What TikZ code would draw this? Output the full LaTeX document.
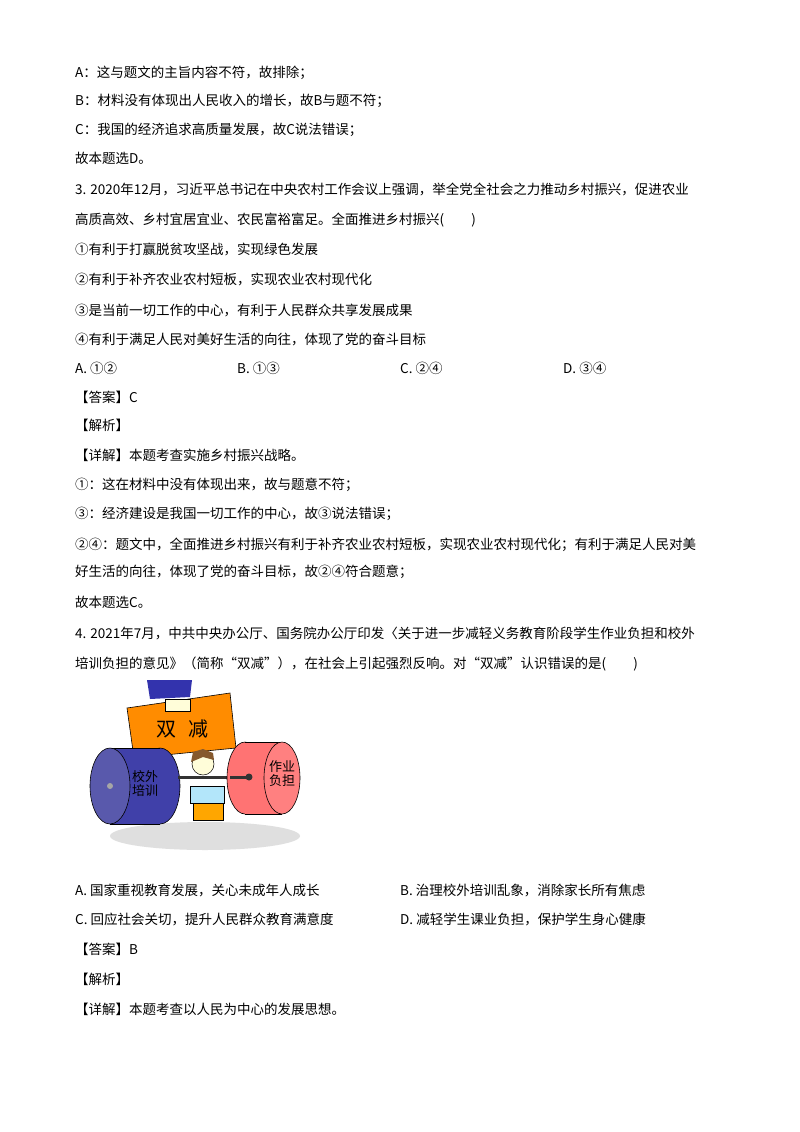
\documentclass[tikz,border=0pt]{standalone}
\usepackage{fontspec}
\setmainfont{Liberation Serif}
\newfontfamily\cjk{Noto Sans CJK SC}
\begin{document}
\begin{tikzpicture}[x=1pt,y=-1pt,
  txt/.style={anchor=west,inner sep=0pt,font=\cjk\fontsize{13.5}{14}\selectfont},
  big/.style={font=\cjk\fontsize{20}{20}\selectfont},
  cyl/.style={font=\cjk\fontsize{13}{14}\selectfont,align=center}]
\useasboundingbox (0,0) rectangle (800,1132);
\fill[white] (0,0) rectangle (800,1132);
\node[txt] (l1) at (75,73) {A：这与题文的主旨内容不符，故排除；};
\node[txt] (l2) at (75,101) {B：材料没有体现出人民收入的增长，故B与题不符；};
\node[txt] (l3) at (75,130) {C：我国的经济追求高质量发展，故C说法错误；};
\node[txt] (l4) at (75,158) {故本题选D。};
\node[txt] (l5) at (75,189) {3. 2020年12月，习近平总书记在中央农村工作会议上强调，举全党全社会之力推动乡村振兴，促进农业};
\node[txt] (l6) at (75,220) {高质高效、乡村宜居宜业、农民富裕富足。全面推进乡村振兴(\hspace{2em})};
\node[txt] (l7) at (75,249) {①有利于打赢脱贫攻坚战，实现绿色发展};
\node[txt] (l8) at (75,280) {②有利于补齐农业农村短板，实现农业农村现代化};
\node[txt] (l9) at (75,311) {③是当前一切工作的中心，有利于人民群众共享发展成果};
\node[txt] (l10) at (75,340) {④有利于满足人民对美好生活的向往，体现了党的奋斗目标};
\node[txt] (oa) at (75,368) {A.\ ①②};
\node[txt] (ob) at (237,368) {B.\ ①③};
\node[txt] (oc) at (400,368) {C.\ ②④};
\node[txt] (od) at (563,368) {D.\ ③④};
\node[txt] (l11) at (75,397) {【答案】C};
\node[txt] (l12) at (75,425) {【解析】};
\node[txt] (l13) at (75,455) {【详解】本题考查实施乡村振兴战略。};
\node[txt] (l14) at (75,485) {①：这在材料中没有体现出来，故与题意不符；};
\node[txt] (l15) at (75,514) {③：经济建设是我国一切工作的中心，故③说法错误；};
\node[txt] (l16) at (75,545) {②④：题文中，全面推进乡村振兴有利于补齐农业农村短板，实现农业农村现代化；有利于满足人民对美};
\node[txt] (l17) at (75,572) {好生活的向往，体现了党的奋斗目标，故②④符合题意；};
\node[txt] (l18) at (75,602) {故本题选C。};
\node[txt] (l19) at (75,633) {4. 2021年7月，中共中央办公厅、国务院办公厅印发〈关于进一步减轻义务教育阶段学生作业负担和校外};
\node[txt] (l20) at (75,664) {培训负担的意见》（简称“双减”），在社会上引起强烈反响。对“双减”认识错误的是(\hspace{2em})};
% cartoon
\fill[gray!25] (205,836) ellipse (95 and 14);
\fill[blue!60!black!80] (147,680) -- (192,680) -- (190,697) -- (150,699) -- cycle;
\fill[orange!90!yellow,draw=black,line width=0.6pt] (127,708) -- (230,693) -- (236,748) -- (134,758) -- cycle;
\fill[yellow!15!white,draw=black,line width=0.5pt] (165,699) rectangle (190,711);
\node[big] (sj) at (182,729) {双\hspace{0.6em}减};
% kid
\fill[orange!70!yellow,draw=black,line width=0.5pt] (193,803) rectangle (223,820);
\fill[cyan!30,draw=black,line width=0.5pt] (190,786) rectangle (224,803);
\fill[yellow!15!white,draw=black,line width=0.5pt] (203,764) circle (11);
\fill[brown!70!black] (191,762) -- (193,752) -- (203,749) -- (213,753) -- (214,760) -- (203,757) -- cycle;
% blue cylinder
\fill[blue!55!black!75,draw=black,line width=0.6pt] (160,786) ellipse (20 and 38);
\fill[blue!55!black!75] (110,748) rectangle (160,824);
\draw[black,line width=0.6pt] (110,748) -- (160,748) (110,824) -- (160,824);
\fill[blue!50!black!65,draw=black,line width=0.6pt] (110,786) ellipse (20 and 38);
\fill[gray!70] (110,786) circle (3);
% bar
\draw[line width=3pt,gray!40!black] (178,777) -- (248,777);
% red cylinder
\fill[red!55!white,draw=black,line width=0.6pt] (245,778) ellipse (18 and 36);
\fill[red!55!white] (245,742) rectangle (282,814);
\draw[black,line width=0.6pt] (245,742) -- (282,742) (245,814) -- (282,814);
\fill[red!50!white,draw=black,line width=0.6pt] (282,778) ellipse (18 and 36);
\draw[line width=3pt,gray!40!black] (230,777) -- (248,777);
\fill[gray!40!black] (249,777) circle (3.5);
\node[cyl] (px) at (145,784) {校外\\培训};
\node[cyl] (zy) at (282,774) {作业\\负担};
% Q4 options
\node[txt] (qa) at (75,890) {A.\ 国家重视教育发展，关心未成年人成长};
\node[txt] (qb) at (400,890) {B.\ 治理校外培训乱象，消除家长所有焦虑};
\node[txt] (qc) at (75,919) {C.\ 回应社会关切，提升人民群众教育满意度};
\node[txt] (qd) at (400,919) {D.\ 减轻学生课业负担，保护学生身心健康};
\node[txt] (l21) at (75,949) {【答案】B};
\node[txt] (l22) at (75,979) {【解析】};
\node[txt] (l23) at (75,1009) {【详解】本题考查以人民为中心的发展思想。};
\end{tikzpicture}
\end{document}
